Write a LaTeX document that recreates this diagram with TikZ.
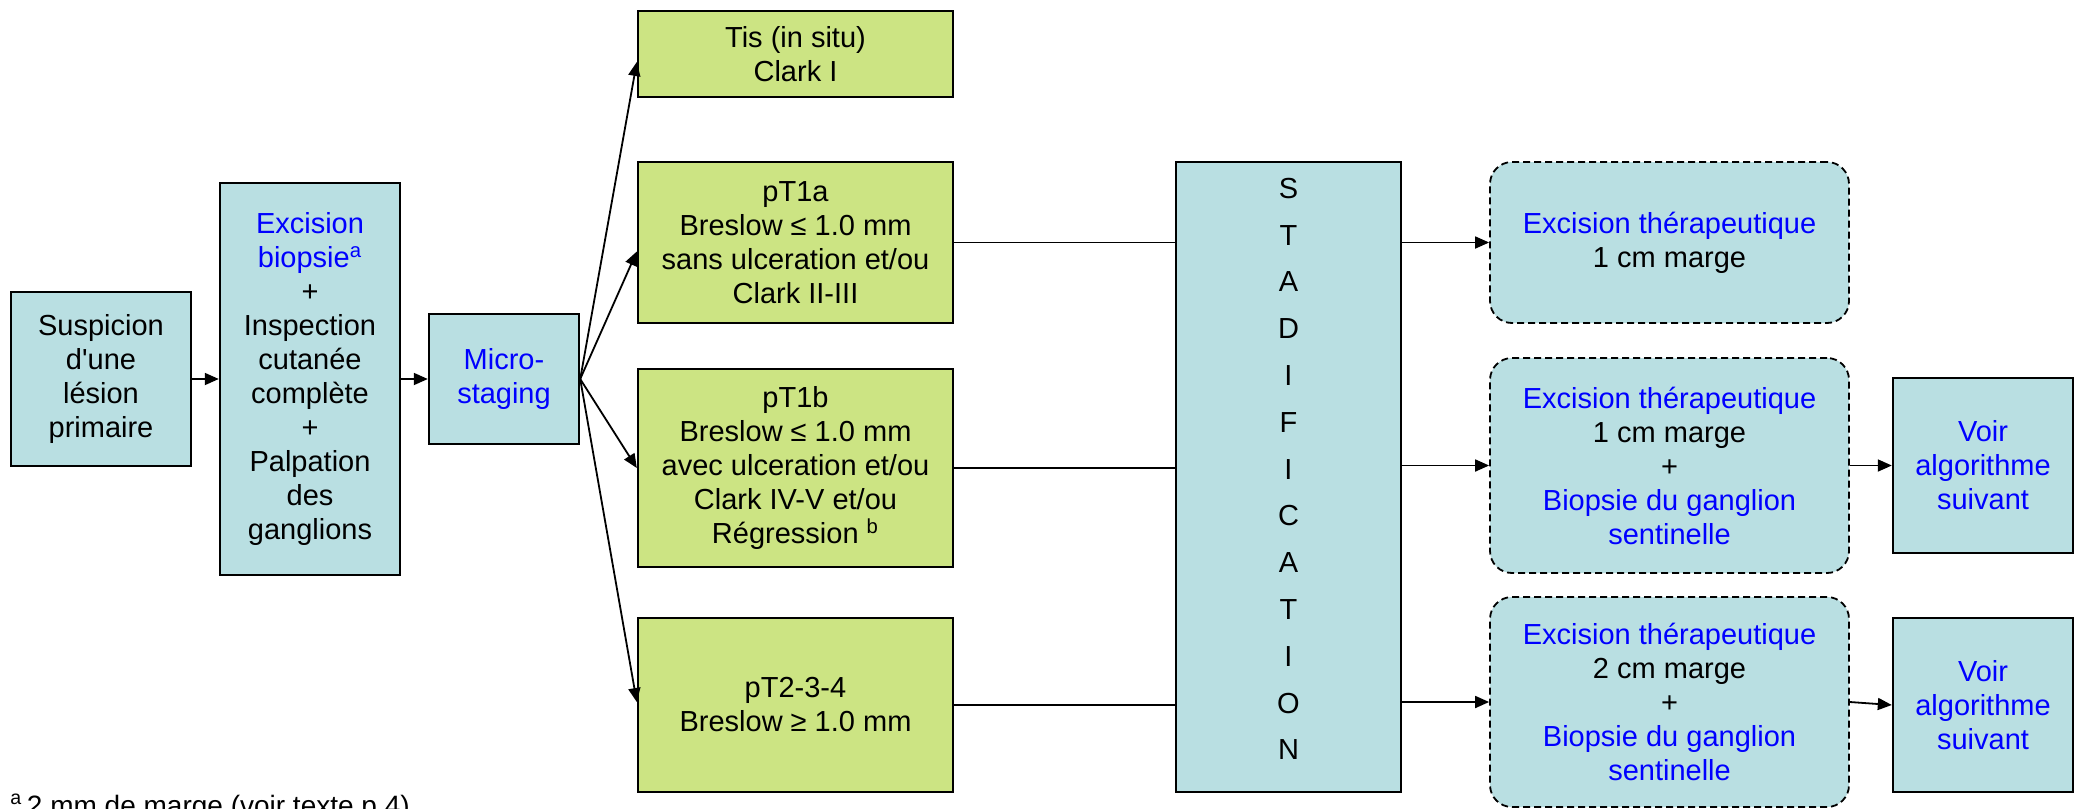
\documentclass[tikz,border=0pt]{standalone}
\usepackage{fontspec}
\setmainfont{Liberation Sans}
\newfontfamily\apofont{Liberation Sans}
\usetikzlibrary{arrows.meta}
\definecolor{boxblue}{RGB}{185,223,226}
\definecolor{boxgreen}{RGB}{204,228,131}
\definecolor{txtblue}{RGB}{0,0,255}
\tikzset{
  base/.style={draw=black, line width=1.2pt, align=center, inner sep=0pt,
    font=\fontsize{14.5}{17}\selectfont},
  bluebox/.style={base, fill=boxblue},
  greenbox/.style={base, fill=boxgreen, minimum width=157.5pt},
  dashbox/.style={base, fill=boxblue, line width=0.9pt,
    dash pattern=on 3.5pt off 2pt, rounded corners=11pt, minimum width=179.5pt},
  arr/.style={-{Triangle[length=7pt,width=6pt]}, line width=0.9pt},
  ln/.style={line width=0.9pt}
}
\begin{document}
\begin{tikzpicture}[x=0.5pt,y=-0.5pt]
\useasboundingbox (0,0) rectangle (2080,808);
\clip (0,0) rectangle (2080,808);

\node[bluebox, minimum width=90pt, minimum height=87pt] (susp) at (101,379)
  {Suspicion\\d{\apofont'}une\\lésion\\primaire};
\node[bluebox, minimum width=90pt, minimum height=196pt] (biopsie) at (310,379)
  {\textcolor{txtblue}{Excision}\\\textcolor{txtblue}{biopsie\textsuperscript{a}}\\+\\Inspection\\cutanée\\complète\\+\\Palpation\\des\\ganglions};
\node[bluebox, minimum width=75pt, minimum height=65pt, text=txtblue] (micro) at (504,379)
  {Micro-\\staging};

\node[greenbox, minimum height=43pt] (tis) at (795.5,54) {Tis (in situ)\\Clark I};
\node[greenbox, minimum height=80.5pt] (pta) at (795.5,242.5)
  {pT1a\\Breslow ≤ 1.0 mm\\sans ulceration et/ou\\Clark II-III};
\node[greenbox, minimum height=99pt] (ptb) at (795.5,468)
  {pT1b\\Breslow ≤ 1.0 mm\\avec ulceration et/ou\\Clark IV-V et/ou\\Régression \textsuperscript{b}};
\node[greenbox, minimum height=87pt] (ptc) at (795.5,705)
  {pT2-3-4\\Breslow ≥ 1.0 mm};

\node[bluebox, minimum width=112.5pt, minimum height=315pt, text depth=8pt,
  font=\fontsize{14.5}{23.4}\selectfont] (stad) at (1288.5,477)
  {S\\T\\A\\D\\I\\F\\I\\C\\A\\T\\I\\O\\N};

\node[dashbox, minimum height=80.5pt] (exa) at (1669.5,242.5)
  {\textcolor{txtblue}{Excision thérapeutique}\\1 cm marge};
\node[dashbox, minimum height=107.5pt] (exb) at (1669.5,465.5)
  {\textcolor{txtblue}{Excision thérapeutique}\\1 cm marge\\+\\\textcolor{txtblue}{Biopsie du ganglion}\\\textcolor{txtblue}{sentinelle}};
\node[dashbox, minimum height=105pt] (exc) at (1669.5,702)
  {\textcolor{txtblue}{Excision thérapeutique}\\2 cm marge\\+\\\textcolor{txtblue}{Biopsie du ganglion}\\\textcolor{txtblue}{sentinelle}};

\node[bluebox, minimum width=90pt, minimum height=87.5pt, text=txtblue] (voira) at (1983,465.5)
  {Voir\\algorithme\\suivant};
\node[bluebox, minimum width=90pt, minimum height=87pt, text=txtblue] (voirb) at (1983,705)
  {Voir\\algorithme\\suivant};

\draw[arr] (susp) -- (biopsie);
\draw[arr] (biopsie) -- (micro);
\foreach \n/\s in {tis/-4,pta/-4.5,ptb/0,ptc/1.5}
{\draw[arr] (micro.east) -- ([yshift=\s pt]\n.west);}
\foreach \n in {pta,ptb,ptc}
{\draw[ln] (\n.east) -- (\n.east -| stad.west);}
\foreach \n in {exa,exb,exc}
{\draw[arr] (\n.west -| stad.east) -- (\n.west);}
\draw[arr] (exb) -- (voira);
\draw[arr] (exc.east) -- (voirb.west);

\node[anchor=base west, inner sep=0pt, font=\fontsize{14}{17}\selectfont] (note) at (10,815)
  {\textsuperscript{a}\,2 mm de marge (voir texte p.4)};

\end{tikzpicture}
\end{document}
